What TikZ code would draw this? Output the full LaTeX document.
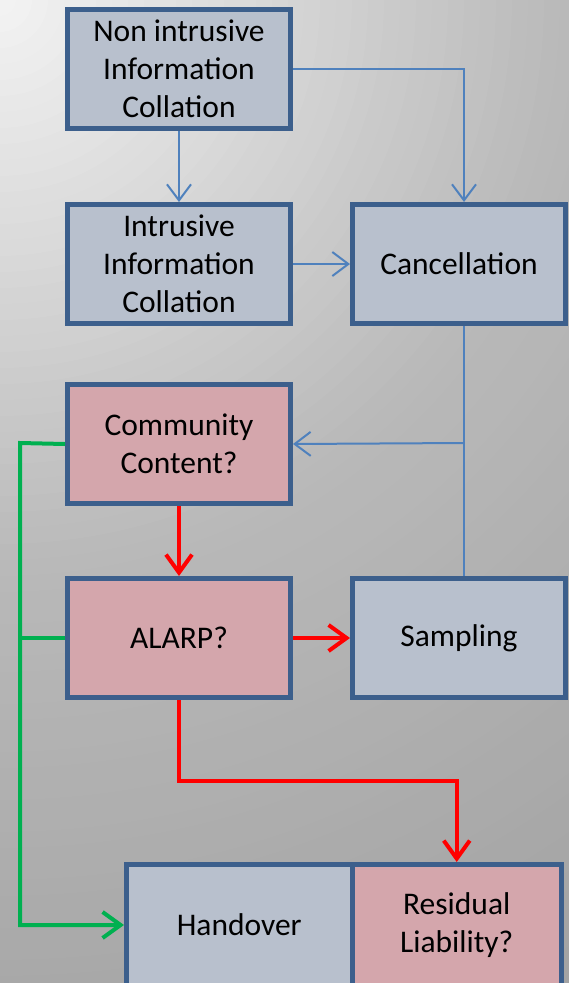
\documentclass[tikz,border=0pt]{standalone}
\usepackage{fontspec}
\setmainfont{Carlito}
\usetikzlibrary{arrows.meta}
\definecolor{bgA}{HTML}{F4F4F4}
\definecolor{bgB}{HTML}{B9B9B9}
\definecolor{bgC}{HTML}{A2A2A2}
\definecolor{boxline}{HTML}{3C5F8C}
\definecolor{boxblue}{HTML}{B8C0CD}
\definecolor{boxpink}{HTML}{D4A6AC}
\definecolor{linkblue}{HTML}{4F81BD}
\definecolor{linkred}{HTML}{FF0000}
\definecolor{linkgreen}{HTML}{00B050}

\begin{document}
\begin{tikzpicture}[x=1pt,y=-1pt,
  box/.style={draw=boxline, line width=5pt, fill=boxblue, align=center, inner sep=0pt,
    font=\fontsize{31.5}{38}\selectfont, minimum width=223pt, minimum height=119pt},
  query/.style={box, fill=boxpink},
  bluelink/.style={draw=linkblue, line width=2pt, -{Straight Barb[length=16pt,width=24pt]}},
  redlink/.style={draw=linkred, line width=4pt, -{Straight Barb[length=18pt,width=26pt]}},
  greenlink/.style={draw=linkgreen, line width=4pt, -{Straight Barb[length=18pt,width=26pt]}}]
\useasboundingbox (0,0) rectangle (569,983);
\begin{scope}
\clip (0,0) rectangle (569,983);
\foreach \r in {1152,1136,...,16} {
  \pgfmathsetmacro{\mixa}{min(100,\r/5.69)}
  \pgfmathsetmacro{\mixb}{max(0,(\r-569)/5.83)}
  \fill[bgC!\mixb!bgB!\mixa!bgA] (0,0) circle (\r);
}
\end{scope}
\node[box] (nonintr) at (179,69) {Non intrusive\\Information\\Collation};
\node[box] (intr) at (179,264) {Intrusive\\Information\\Collation};
\node[box, minimum width=213pt] (cancel) at (459,264) {Cancellation};
\node[query] (community) at (179,444) {Community\\Content?};
\node[query] (alarp) at (179,638) {ALARP?};
\node[box, minimum width=213pt] (sampling) at (459,638) {Sampling};
\node[box, minimum width=225.5pt, minimum height=121pt] (handover) at (239.25,925) {Handover};
\node[query, minimum width=209.5pt, minimum height=121pt] (residual) at (456.75,925) {Residual\\Liability?};
\coordinate (junc) at (464,443);
\coordinate (redbend) at (179,781);
\coordinate (greenbar) at (20,443);

\draw[bluelink] (nonintr) -- (intr);
\draw[bluelink] (nonintr.east) -| (junc |- cancel.north);
\draw[bluelink] (intr) -- (cancel);
\draw[draw=linkblue, line width=2pt] (junc |- cancel.south) -- (junc |- sampling.north);
\draw[bluelink] (junc) -- (community.east);
\draw[redlink] (community) -- (alarp);
\draw[redlink] (alarp) -- (sampling);
\draw[redlink] (alarp.south) -- (redbend) -| (residual.north);
\draw[greenlink] (community.west) -- (greenbar) |- (handover.west);
\draw[draw=linkgreen, line width=4pt] (alarp.west) -- (greenbar |- alarp.west);
\end{tikzpicture}
\end{document}
